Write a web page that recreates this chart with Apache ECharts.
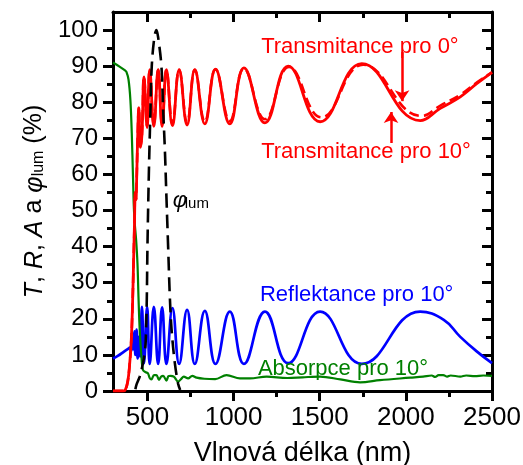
<!DOCTYPE html>
<html>
<head>
<meta charset="utf-8">
<script src="https://cdn.jsdelivr.net/npm/echarts@6/dist/echarts.min.js"></script>
<style>
  html, body { margin: 0; padding: 0; background: #fff; }
  #chart { width: 523px; height: 465px; }
</style>
</head>
<body>
<div id="chart"></div>
<script>
const FONT = '"Liberation Sans", Arial, sans-serif';

// Axis ranges and tick positions
const xMin = 300, xMax = 2500;
const xMajorTicks = [500, 1000, 1500, 2000, 2500];
const xMinorTicks = [750, 1250, 1750, 2250];
const yMin = 0, yMax = 105;
const yMajorTicks = [0, 10, 20, 30, 40, 50, 60, 70, 80, 90, 100];
const yMinorTicks = [5, 15, 25, 35, 45, 55, 65, 75, 85, 95];

// Transmittance at 0° incidence [wavelength nm, %]
const transmit0 = [
  [300, 0], [360, 0], [372, 0.4], [385, 2.5], [396, 7], [406, 14], [414, 25], [420, 37],
  [425, 47], [429, 55], [433, 53], [437, 58], [443, 70], [450, 78.5], [459, 67.5], [468, 71],
  [480, 87], [498, 73], [513, 89], [537, 73.3], [562, 89], [585, 73.3], [610, 89], [645, 73.5],
  [684, 89], [730, 73.7], [775, 89], [833, 74], [895, 89.2], [978, 74], [1060, 89.5],
  [1182, 74.3], [1317, 90], [1502, 74.6], [1744, 90.7], [2083, 74.9], [2200, 78.3],
  [2316, 81.5], [2413, 85.2], [2500, 88.3]
];

// Transmittance at 10° incidence
const transmit10 = [
  [300, 0], [360, 0], [372, 0.4], [385, 2.5], [396, 7], [406, 14], [414, 25], [420, 37],
  [425, 47], [429, 55], [433, 53], [437, 58], [443, 70], [450, 78.5], [459, 67.8], [468, 71],
  [480, 87], [498, 73.4], [513, 89], [537, 73.7], [562, 89], [585, 73.8], [610, 89], [645, 74],
  [684, 89], [730, 74.3], [775, 89], [833, 74.6], [895, 89.1], [978, 74.8], [1060, 89.3],
  [1182, 75.3], [1322, 89.8], [1510, 75.8], [1752, 90.4], [2090, 76.2], [2205, 79.2],
  [2320, 82.2], [2415, 85.6], [2500, 88.3]
];

// Reflectance at 10° incidence
const reflect10 = [
  [300, 9], [330, 9.8], [360, 10.8], [385, 11.6], [398, 12], [406, 11], [412, 14.5], [418, 11.5],
  [424, 16.5], [430, 10], [437, 17], [443, 9], [450, 15], [457, 9.5], [468, 23.3], [480, 7.7],
  [498, 23.3], [513, 7.5], [537, 23.3], [562, 7.5], [585, 23.2], [610, 7.5], [645, 23],
  [684, 7.5], [730, 22.5], [775, 7.5], [833, 22.2], [895, 7.5], [978, 22], [1060, 7.5],
  [1182, 22], [1317, 7.7], [1502, 22], [1744, 7.5], [2083, 22], [2220, 19.7], [2316, 15],
  [2413, 10.9], [2500, 7.7]
];

// Absorptance at 10° incidence
const absorb10 = [
  [300, 91], [340, 89.8], [370, 88.8], [378, 88.4], [390, 86.3], [401, 80.6], [409, 71.4],
  [416, 59.4], [421, 51], [427, 46], [434, 42], [442, 35.4], [448, 26], [455, 17], [465, 9.5],
  [474, 5.8], [490, 5.2], [503, 4.9], [513, 3.6], [523, 3.2], [538, 4.4], [552, 4.4], [567, 3.1],
  [580, 4.0], [591, 4.2], [610, 2.9], [622, 4.1], [634, 4.2], [653, 4.0], [678, 2.6], [695, 3.3],
  [711, 4.0], [736, 3.5], [760, 4.2], [785, 3.7], [830, 3.4], [893, 3.3], [959, 4.4], [1037, 3.5],
  [1095, 3.5], [1192, 4.0], [1312, 3.6], [1400, 3.8], [1502, 4.0], [1620, 3.2], [1734, 2.4],
  [1850, 3.0], [2025, 3.7], [2100, 4.0], [2150, 4.3], [2170, 3.9], [2190, 4.4], [2217, 4.4],
  [2240, 4.0], [2260, 4.3], [2316, 4.0], [2350, 4.3], [2400, 4.1], [2450, 4.3], [2500, 4.2]
];

// Relative luminous efficiency (photopic), scaled to 100
const phiLum = [
  [430, 0.5], [436, 1.7], [455, 4], [474, 7.7], [485, 11], [490, 14], [496, 25], [500, 40],
  [508, 60], [517, 77], [525, 90], [540, 98], [552, 100], [562, 98], [581, 90], [591, 78],
  [601, 67], [610, 54], [620, 40], [630, 26], [640, 17], [659, 7.7], [678, 2], [690, 0.3]
];

// Text annotations anchored in data coordinates [wavelength, %]
const annotations = [
  { text: 'Transmitance pro 0°', at: [1160, 95.4], color: '#ff0000' },
  { text: 'Transmitance pro 10°', at: [1160, 66.3], color: '#ff0000' },
  { text: 'Reflektance pro 10°', at: [1153, 26.7], color: '#0000ff' },
  { text: 'Absorpce pro 10°', at: [1141, 6.0], color: '#008000' }
];
const phiLabelAt = [647, 52.8];

// Pointer arrows [x, yStart, yEnd]
const arrows = [
  [1978, 93.9, 80.3],
  [1914, 68.7, 77.3]
];

const axisLineStyle = { color: '#000', width: 3 };
const plainNumber = v => String(v);

function xAxisDef(position, ticks, len, inside, withLine, withLabels) {
  return {
    type: 'value', min: xMin, max: xMax, position: position,
    axisLine: { show: withLine, onZero: false, lineStyle: axisLineStyle },
    axisTick: { show: true, inside: inside, length: len, customValues: ticks,
      lineStyle: { color: '#000', width: 3 } },
    axisLabel: withLabels
      ? { show: true, customValues: ticks, formatter: plainNumber, fontSize: 26,
          fontFamily: FONT, color: '#000', margin: 14 }
      : { show: false },
    splitLine: { show: false }
  };
}
function yAxisDef(position, ticks, len, inside, withLine, withLabels) {
  return {
    type: 'value', min: yMin, max: yMax, position: position,
    axisLine: { show: withLine, onZero: false, lineStyle: axisLineStyle },
    axisTick: { show: true, inside: inside, length: len, customValues: ticks,
      lineStyle: { color: '#000', width: 3 } },
    axisLabel: withLabels
      ? { show: true, customValues: ticks, formatter: plainNumber, fontSize: 24,
          fontFamily: FONT, color: '#000', margin: 15 }
      : { show: false },
    splitLine: { show: false }
  };
}

const xBottom = xAxisDef('bottom', xMajorTicks, 10, false, true, true);
xBottom.name = 'Vlnová délka (nm)';
xBottom.nameLocation = 'middle';
xBottom.nameGap = 49;
xBottom.nameTextStyle = { fontSize: 27, fontFamily: FONT, color: '#000' };

const yLeft = yAxisDef('left', yMajorTicks, 10, false, true, true);
yLeft.name = '{i|T}, {i|R}, {i|A} a {i|φ}{s|lum} (%)';
yLeft.nameLocation = 'middle';
yLeft.nameGap = 62;
yLeft.nameTextStyle = {
  fontSize: 25, fontFamily: FONT, color: '#000',
  rich: {
    i: { fontStyle: 'italic', fontSize: 25, fontFamily: FONT, color: '#000' },
    s: { fontSize: 16, fontFamily: FONT, color: '#000', lineHeight: 16,
      verticalAlign: 'bottom', padding: [20, 0, 0, 0] }
  }
};

const option = {
  animation: false,
  backgroundColor: '#fff',
  grid: { left: 113, right: 31, top: 12, bottom: 74, containLabel: false, outerBoundsMode: 'none' },
  xAxis: [
    xBottom,
    xAxisDef('bottom', xMinorTicks, 6, false, false, false),
    xAxisDef('top', xMajorTicks, 10, true, true, false),
    xAxisDef('top', xMinorTicks, 6, true, false, false)
  ],
  yAxis: [
    yLeft,
    yAxisDef('left', yMinorTicks, 6, false, false, false),
    yAxisDef('right', yMajorTicks, 10, true, true, false),
    yAxisDef('right', yMinorTicks, 6, true, false, false)
  ],
  series: [
    {
      name: 'Reflektance 10°', type: 'line', data: reflect10, smooth: 0.45,
      showSymbol: false, lineStyle: { color: '#0000ff', width: 2.7 }, z: 2
    },
    {
      name: 'Absorpce 10°', type: 'line', data: absorb10, smooth: 0.35,
      showSymbol: false, lineStyle: { color: '#008000', width: 2.2 }, z: 3
    },
    {
      name: 'Transmitance 0°', type: 'line', data: transmit0, smooth: 0.45,
      showSymbol: false, lineStyle: { color: '#ff0000', width: 2.8 }, z: 4,
      markLine: {
        silent: true, animation: false,
        symbol: ['none', 'arrow'], symbolSize: 11,
        label: { show: false },
        lineStyle: { color: '#ff0000', width: 2.5, type: 'solid' },
        emphasis: { disabled: true },
        data: arrows.map(a => [{ coord: [a[0], a[1]] }, { coord: [a[0], a[2]] }])
      }
    },
    {
      name: 'Transmitance 10°', type: 'line', data: transmit10, smooth: 0.45,
      showSymbol: false, lineStyle: { color: '#ff0000', width: 2.6, type: [10, 5] }, z: 5
    },
    {
      name: 'φlum', type: 'line', data: phiLum, smooth: 0.35,
      showSymbol: false, lineStyle: { color: '#000', width: 2.6, type: [14, 7] }, z: 6
    }
  ]
};

const chart = echarts.init(document.getElementById('chart'), null, { renderer: 'canvas' });
chart.setOption(option);

// Place the text annotations from their data anchors
const toPx = p => chart.convertToPixel({ xAxisIndex: 0, yAxisIndex: 0 }, p);
const graphics = annotations.map(a => {
  const p = toPx(a.at);
  return {
    type: 'text', x: p[0], y: p[1], z: 100, silent: true,
    style: { text: a.text, fill: a.color, fontSize: 22, fontFamily: FONT,
      align: 'left', verticalAlign: 'middle' }
  };
});
const pp = toPx(phiLabelAt);
graphics.push({
  type: 'text', x: pp[0], y: pp[1], z: 100, silent: true,
  style: { text: 'φ', fill: '#000', fontSize: 22, fontStyle: 'italic', fontFamily: FONT,
    align: 'left', verticalAlign: 'middle' }
});
graphics.push({
  type: 'text', x: pp[0] + 12, y: pp[1] + 11, z: 100, silent: true,
  style: { text: 'lum', fill: '#000', fontSize: 15, fontFamily: FONT,
    align: 'left', verticalAlign: 'bottom' }
});
chart.setOption({ graphic: graphics });
</script>
</body>
</html>
